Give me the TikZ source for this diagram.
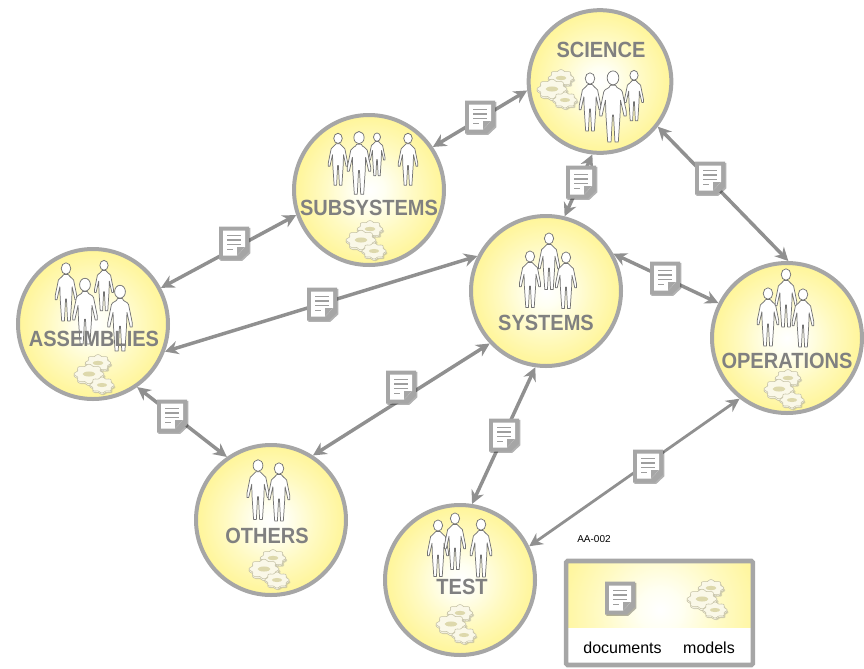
\documentclass[tikz,border=0pt]{standalone}
\usepackage{fontspec}
\setmainfont{Liberation Sans}
\usetikzlibrary{arrows.meta,shadows}
\definecolor{edgegray}{HTML}{A6A6A6}
\definecolor{linkgray}{HTML}{909090}
\definecolor{textgray}{HTML}{808080}
\definecolor{gearfill}{HTML}{FAF8E8}
\definecolor{gearedge}{HTML}{C4C0A4}
\definecolor{gearshade}{HTML}{DDD8AC}
\definecolor{legendyellow}{HTML}{FFF38B}
\pgfdeclareradialshading{yball}{\pgfpointorigin}{rgb(0bp)=(1,1,1);rgb(5bp)=(1,1,.95);rgb(15bp)=(1,.98,.76);rgb(28bp)=(1,.955,.55);rgb(50bp)=(1,.95,.5)}
\tikzset{
  x=.75pt,y=-.75pt,
  hub/.style={circle,minimum size=112.5pt,inner sep=0pt,line width=3pt,draw=edgegray,shading=yball},
  hublabel/.style={text=textgray,font=\fontsize{16.5}{18}\selectfont\bfseries,inner sep=0pt,xscale=.91},
  link/.style={line width=2.6pt,draw=linkgray,{Stealth[length=10pt,width=10pt]}-{Stealth[length=10pt,width=10pt]}},
  thinlink/.style={link,line width=2.1pt},
  docnode/.style={rectangle,minimum width=22.5pt,minimum height=24.75pt,inner sep=0pt},
  person/.pic={
    \begin{scope}[xscale=.95]
    \draw[fill=white,draw=black!55,line width=.55pt]
      (0,2) ellipse [x radius=6.6,y radius=7.5];
    \draw[fill=white,draw=black!55,line width=.55pt,line join=round]
      (-3,10) .. controls (-4,14) and (-9,13) .. (-10.5,17)
      -- (-15,38) -- (-15,43) -- (-12.5,43) -- (-8.5,26)
      -- (-8,42) -- (-6,71) -- (-2.2,71) -- (-.6,42) -- (.6,42)
      -- (2.2,71) -- (6,71) -- (8,42) -- (8.5,26) -- (12.5,43) -- (15,43) -- (15,38)
      -- (10.5,17) .. controls (9,13) and (4,14) .. (3,10) -- cycle;
    \end{scope}
  },
  onegear/.pic={
    \fill[black!45,opacity=.35,shift={(1.5,2.6)}] plot[domain=0:360,samples=65,smooth] ({13*(1+.1*cos(8*\x))*cos(\x)},{8.5*(1+.1*cos(8*\x))*sin(\x)}) -- cycle;
    \draw[fill=gearfill,draw=gearedge,line width=.4pt,shift={(0,1.6)}] plot[domain=0:360,samples=65,smooth] ({13*(1+.1*cos(8*\x))*cos(\x)},{8.5*(1+.1*cos(8*\x))*sin(\x)}) -- cycle;
    \draw[fill=gearfill,draw=gearedge,line width=.4pt] plot[domain=0:360,samples=65,smooth] ({13*(1+.1*cos(8*\x))*cos(\x)},{8.5*(1+.1*cos(8*\x))*sin(\x)}) -- cycle;
    \fill[gearshade] (0,0) ellipse [x radius=6,y radius=2.4];
  },
  gears/.pic={
    \pic at (3,-12) [scale=.9] {onegear};
    \pic at (-6,-1) [scale=1.05] {onegear};
    \pic at (7,10) [scale=.85] {onegear};
  },
  docface/.pic={
    \fill[edgegray,drop shadow={shadow xshift=1pt,shadow yshift=-1pt,opacity=.3,fill=black}] (-15,-16.5) -- (15,-16.5) -- (15,9) -- (7,16.5) -- (-15,16.5) -- cycle;
    \fill[white] (-11,-12.5) -- (11,-12.5) -- (11,4) -- (3,12.5) -- (-11,12.5) -- cycle;
    \fill[edgegray] (11,4) -- (3,4) -- (3,12.5) -- cycle;
    \foreach \yy/\len in {-7.5/7,-3/7,1.5/7,6.5/-1}{
      \draw[black!38,line width=1.4pt] (-7,\yy) -- (\len,\yy);
    }
  }
}
\begin{document}
\begin{tikzpicture}
\useasboundingbox (0,0) rectangle (864,668);
% hubs
\node[hub,minimum size=107pt] (science) at (600,81.5) {};
\node[hub] (subsystems) at (369,190) {};
\node[hub] (systems) at (546,291) {};
\node[hub] (assemblies) at (93,324) {};
\node[hub] (operations) at (787,338) {};
\node[hub] (others) at (271,520) {};
\node[hub] (test) at (460,580) {};
% people
\foreach \px/\py/\ps in {590/77/.76, 613/76/.93, 634/74/.66,
  338/137/.68, 359/136/.82, 377/136/.56, 408/137/.68,
  530/255/.74, 549/237/.74, 566/256/.74,
  66/267/.76, 104/264/.66, 85/283/.86, 120/290/.86,
  768/292/.76, 786/273/.76, 803/293/.76,
  258/464/.78, 279/467/.76,
  438/524/.74, 455/517/.74, 481/523/.76}{
  \pic at (\px,\py) [scale=\ps] {person};
}
% models
\foreach \gx/\gy in {558/90, 367/241, 95/375, 785/390, 270/570, 457/625}{
  \pic at (\gx,\gy) {gears};
}
% labels
\node[hublabel] (lscience) at (601,50) {SCIENCE};
\node[hublabel] (lsubsystems) at (369,208) {SUBSYSTEMS};
\node[hublabel] (lsystems) at (546,323) {SYSTEMS};
\node[hublabel] (lassemblies) at (94,339) {ASSEMBLIES};
\node[hublabel] (loperations) at (787,361) {OPERATIONS};
\node[hublabel] (lothers) at (267,536) {OTHERS};
\node[hublabel] (ltest) at (462,587) {TEST};
% connectors
\draw[link] (subsystems.34) -- (science.187);
\draw[link] (assemblies.28) -- (subsystems.199);
\draw[link] (assemblies.-21) -- (systems.153);
\draw[link] (assemblies.-55) -- (others.125);
\draw[link] (others.57) -- (systems.223);
\draw[link] (test.81) -- (systems.262);
\draw[link] (systems.76) -- (science.264);
\draw[link] (systems.29) -- (operations.153);
\draw[link] (science.-38) -- (operations.89);
\draw[thinlink] (test.26) -- (operations.232);
% documents
\foreach \nm/\dx/\dy in {d1/480/117, d2/234/243, d3/322/304, d4/172/416, d5/401/387, d6/504/435, d7/581/182, d8/665/278, d9/710/178, d10/648/466}{
  \node[docnode] (\nm) at (\dx,\dy) {};
  \pic at (\nm) {docface};
}
% legend
\node[inner sep=0pt,font=\fontsize{7.5}{9}\selectfont] (code) at (594,539) {AA-002};
\begin{scope}
  \clip (566,561) rectangle (753,627);
  \fill[legendyellow] (566,561) rectangle (753,627);
  \fill[shading=yball] (660,610) circle (105);
\end{scope}
\node[draw=edgegray,line width=3.4pt,rounded corners=1pt,minimum width=140pt,minimum height=78pt,inner sep=0pt] (legend) at (659.5,613) {};
\node[docnode] (ldoc) at (620,598) {};
\pic at (ldoc) {docface};
\pic at (708,600) {gears};
\node[inner sep=0pt,font=\fontsize{12}{14}\selectfont] (ldocs) at (622.5,648) {documents};
\node[inner sep=0pt,font=\fontsize{12}{14}\selectfont] (lmodels) at (709,648) {models};
\end{tikzpicture}
\end{document}
